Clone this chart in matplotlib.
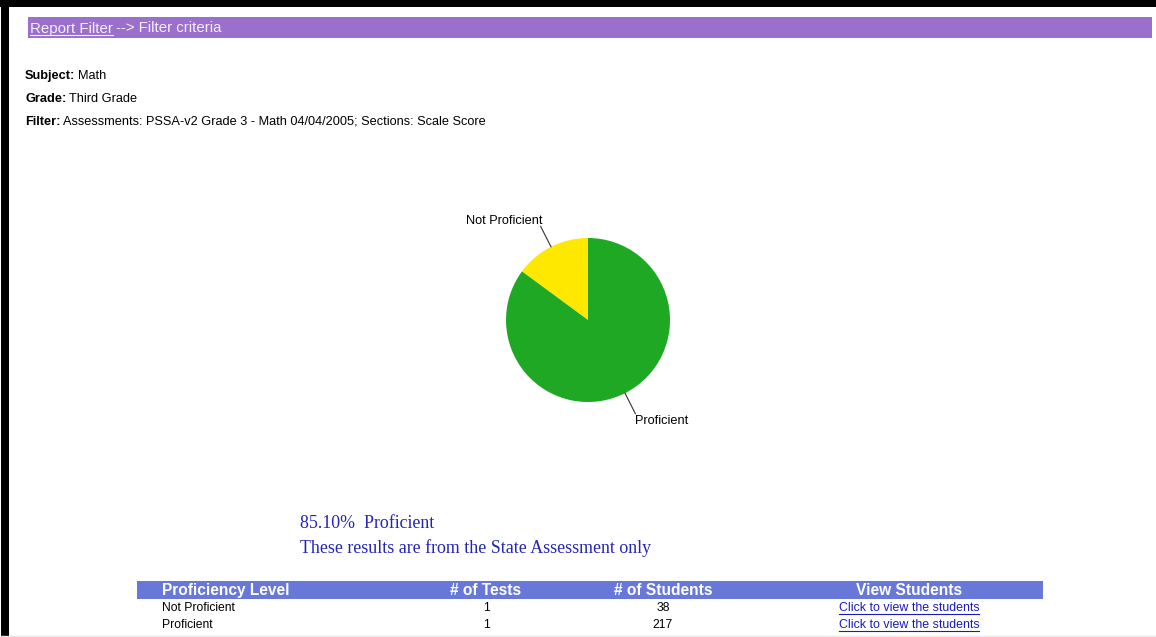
import numpy as np
import matplotlib
matplotlib.use("Agg")
from matplotlib import pyplot as plt
from matplotlib import patches

DPI = 100
WIDTH, HEIGHT = 1156, 637

# report data
subject = "Math"
grade = "Third Grade"
filter_text = "Assessments: PSSA-v2 Grade 3 - Math 04/04/2005; Sections: Scale Score"

levels = ["Not Proficient", "Proficient"]
tests = [1, 1]
students = [38, 217]
level_colors = ["#FFE800", "#1FA824"]

columns = ["Proficiency Level", "# of Tests", "# of Students", "View Students"]
link_text = "Click to view the students"

SANS = "Liberation Sans"
SERIF = "Liberation Serif"

fig = plt.figure(figsize=(WIDTH / DPI, HEIGHT / DPI), dpi=DPI, facecolor="white")

# page canvas in pixel coordinates (y goes down)
ax = fig.add_axes([0, 0, 1, 1])
ax.set_xlim(0, WIDTH)
ax.set_ylim(HEIGHT, 0)
ax.axis("off")

# black frame at top and left
ax.add_patch(patches.Rectangle((0, 0), WIDTH, 7, color="black", lw=0))
ax.add_patch(patches.Rectangle((1, 0), 8, HEIGHT, color="black", lw=0))
ax.axhline(636, color="#E8E8E8", lw=1)

# purple filter bar
ax.add_patch(patches.Rectangle((28, 17), 1124, 21, color="#9A70CC", lw=0))
links = []
t = ax.text(30, 28.5, "Report Filter", color="#F4EEFF", fontsize=10.8,
            family=SANS, va="center", ha="left")
links.append((t, "#F4EEFF"))
fig.canvas.draw()
bb = t.get_window_extent().transformed(ax.transData.inverted())
ax.text(bb.x1 + 3, 28.5, "--> Filter criteria", color="#F4EEFF", fontsize=10.8,
        family=SANS, va="center", ha="left")

# filter criteria lines
rows = [("Subject:", subject), ("Grade:", grade), ("Filter:", filter_text)]
for i, (label, value) in enumerate(rows):
    y = 76 + i * 23
    lt = ax.text(25, y, label, fontsize=9.2, family=SANS, weight="bold",
                 va="center", ha="left", color="black")
    fig.canvas.draw()
    lb = lt.get_window_extent().transformed(ax.transData.inverted())
    ax.text(lb.x1 + 3, y, value, fontsize=9.2, family=SANS,
            va="center", ha="left", color="black")

# pie chart
cx, cy, r = 588, 320, 82
pax = fig.add_axes([(cx - r) / WIDTH, (HEIGHT - cy - r) / HEIGHT,
                    2 * r / WIDTH, 2 * r / HEIGHT])
wedges, _ = pax.pie(students, colors=level_colors, startangle=90,
                    counterclock=True, radius=1,
                    wedgeprops=dict(linewidth=0))
pax.set_xlim(-1, 1)
pax.set_ylim(-1, 1)
pax.axis("off")

for w, name in zip(wedges, levels):
    mid = np.deg2rad((w.theta1 + w.theta2) / 2)
    x0, y0 = np.cos(mid), np.sin(mid)
    x1, y1 = 1.28 * x0, 1.28 * y0
    pax.plot([x0, x1], [y0, y1], color="#333333", lw=0.8, clip_on=False)
    if x0 < 0:
        pax.text(x1 + 0.02, y1 - 0.01, name, ha="right", va="bottom",
                 fontsize=9.2, family=SANS, color="black")
    else:
        pax.text(x1 - 0.01, y1 - 0.02, name, ha="left", va="top",
                 fontsize=9.2, family=SANS, color="black")

# summary text
pct = 100 * students[levels.index("Proficient")] / sum(students)
ax.text(300, 524, f"{pct:.2f}%  Proficient", fontsize=12.9, family=SERIF,
        color="#2525B5", va="center", ha="left")
ax.text(300, 548, "These results are from the State Assessment only",
        fontsize=12.9, family=SERIF, color="#2525B5", va="center", ha="left")

# results table
ax.add_patch(patches.Rectangle((137, 581), 906, 18, color="#6878D8", lw=0))
col_x = [162, 486, 663, 909]
col_ha = ["left", "center", "center", "center"]
for x, ha, name in zip(col_x, col_ha, columns):
    ax.text(x, 590.5, name, color="white", fontsize=11.2, family=SANS,
            weight="bold", va="center", ha=ha)

for i, (lvl, nt, ns) in enumerate(zip(levels, tests, students)):
    y = 608 + i * 17
    ax.text(col_x[0], y, lvl, fontsize=8.7, family=SANS, va="center",
            ha="left", color="black")
    ax.text(col_x[1], y, str(nt), fontsize=8.7, family=SANS, va="center",
            ha="center", color="black")
    ax.text(col_x[2], y, str(ns), fontsize=8.7, family=SANS, va="center",
            ha="center", color="black")
    lk = ax.text(col_x[3], y, link_text, fontsize=8.9, family=SANS,
                 va="center", ha="center", color="#1A1AC0")
    links.append((lk, "#1A1AC0"))

# underline the links
fig.canvas.draw()
for txt, col in links:
    b = txt.get_window_extent().transformed(ax.transData.inverted())
    ax.plot([b.x0, b.x1], [b.y0 - 0.5, b.y0 - 0.5], color=col, lw=0.8)

fig.savefig("out.png", dpi=DPI, facecolor="white")
